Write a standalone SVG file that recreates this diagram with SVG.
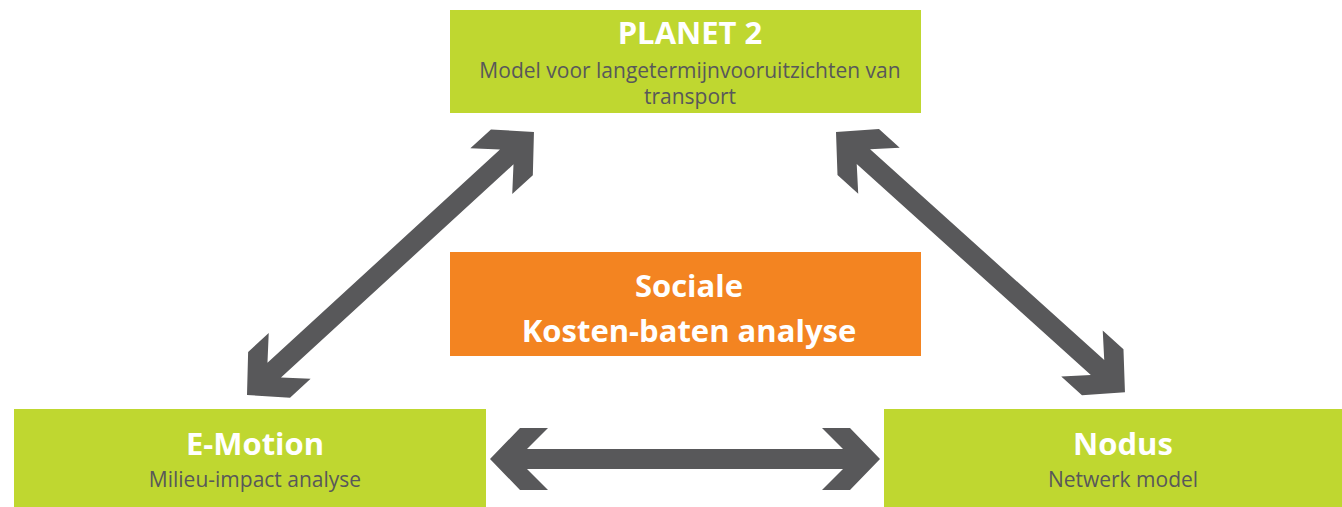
<svg xmlns="http://www.w3.org/2000/svg" xmlns:xlink="http://www.w3.org/1999/xlink" width="1342" height="507" viewBox="0 0 1342 507">
<style>
.box{fill:#BFD730}
.orange{fill:#F38421}
.title{font-family:"Open Sans","Liberation Sans",sans-serif;font-weight:bold;font-size:31px;fill:#FFFFFF;text-anchor:middle}
.sub{font-family:"Open Sans","Liberation Sans",sans-serif;font-size:21px;fill:#58585A;text-anchor:middle}
.arrow{fill:#58585A}
</style>
<defs>
<path id="dblarrow" d="M0,0 L30,-31 L58,-31 L37,-10 L353,-10 L332,-31 L360,-31 L390,0 L360,31 L332,31 L353,10 L37,10 L58,31 L30,31 Z"/>
</defs>
<g id="connectors" class="arrow">
<use xlink:href="#dblarrow" href="#dblarrow" transform="translate(247,395) rotate(-42.5) scale(0.998,1)"/>
<use xlink:href="#dblarrow" href="#dblarrow" transform="translate(836,132) rotate(42) scale(0.997,1)"/>
<use xlink:href="#dblarrow" href="#dblarrow" transform="translate(490,459)"/>
</g>
<g id="planet2">
<rect class="box" x="450" y="10" width="471" height="103"/>
<text class="title" x="690" y="44">PLANET 2</text>
<text class="sub" x="690" y="78">Model voor langetermijnvooruitzichten van</text>
<text class="sub" x="690" y="104">transport</text>
</g>
<g id="mkba">
<rect class="orange" x="450" y="252" width="471" height="104"/>
<text class="title" x="689" y="297">Sociale</text>
<text class="title" x="689" y="342">Kosten-baten analyse</text>
</g>
<g id="emotion">
<rect class="box" x="14" y="409" width="472" height="98"/>
<text class="title" x="255" y="455">E-Motion</text>
<text class="sub" x="255" y="487">Milieu-impact analyse</text>
</g>
<g id="nodus">
<rect class="box" x="884" y="409" width="458" height="98"/>
<text class="title" x="1123" y="455">Nodus</text>
<text class="sub" x="1123" y="487">Netwerk model</text>
</g>
</svg>
